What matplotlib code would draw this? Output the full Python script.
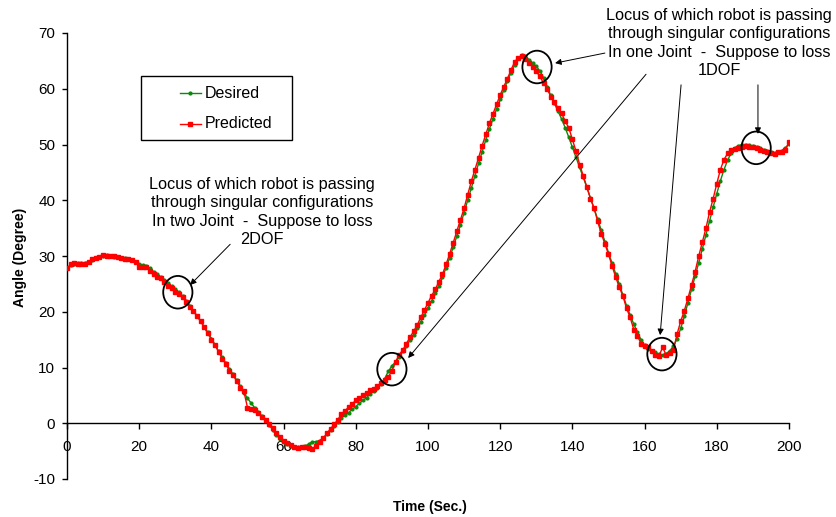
import matplotlib
matplotlib.use("Agg")
import matplotlib.pyplot as plt
from matplotlib.patches import Ellipse, Rectangle
from matplotlib.lines import Line2D

plt.rcParams['font.family'] = ['Liberation Sans', 'DejaVu Sans']

# Time axis (seconds)
time_s = list(range(0, 201))

# Desired joint angle (degrees), one sample per second
desired = [
    27.9, 28.3, 28.6, 28.7, 28.7, 28.8, 29.0, 29.3, 29.6, 29.8,
    30.0, 30.1, 30.0, 29.9, 29.8, 29.7, 29.6, 29.5, 29.3, 29.0,
    28.6, 28.4, 28.2, 27.8, 27.2, 26.7, 26.2, 25.7, 25.1, 24.6,
    24.1, 23.5, 22.8, 22.0, 21.1, 20.2, 19.3, 18.4, 17.3, 16.3,
    15.2, 14.1, 12.9, 11.8, 10.8, 9.7, 8.8, 7.7, 6.6, 5.5,
    4.5, 3.6, 2.8, 2.0, 1.3, 0.5, -0.3, -1.2, -2.1, -2.8,
    -3.4, -3.8, -4.1, -4.3, -4.3, -4.3, -4.1, -3.7, -3.3, -3.3,
    -3.1, -2.6, -2.0, -1.2, -0.5, 0.3, 1.0, 1.4, 1.9, 2.5,
    3.0, 3.6, 4.1, 4.6, 5.3, 5.8, 6.4, 7.0, 8.0, 9.3,
    10.3, 11.0, 11.9, 12.9, 13.9, 14.9, 15.9, 17.0, 18.2, 19.4,
    20.6, 21.9, 23.3, 24.6, 26.2, 27.9, 29.7, 31.6, 33.6, 35.6,
    37.8, 40.0, 42.2, 44.4, 46.6, 48.7, 50.8, 52.8, 54.6, 56.4,
    58.1, 59.8, 61.4, 62.9, 64.3, 65.5, 66.0, 65.8, 65.2, 64.6,
    64.0, 63.2, 62.0, 60.4, 58.8, 57.4, 56.0, 54.6, 53.0, 51.3,
    49.5, 47.7, 45.9, 44.1, 42.3, 40.4, 38.5, 36.6, 34.6, 32.6,
    30.6, 28.7, 26.8, 24.9, 23.0, 21.1, 19.4, 17.8, 16.3, 15.0,
    14.0, 13.4, 13.0, 12.7, 12.4, 12.2, 12.5, 13.0, 13.8, 15.2,
    17.0, 19.2, 21.6, 24.0, 26.4, 28.8, 31.3, 33.8, 36.3, 38.8,
    41.2, 43.5, 45.5, 47.2, 48.5, 49.3, 49.8, 50.0, 50.0, 49.9,
    49.7, 49.5, 49.3, 49.1, 48.9, 48.7, 48.5, 48.6, 48.9, 49.4,
    50.1,
]

# Predicted joint angle (degrees)
predicted = [
    27.8, 28.5, 28.8, 28.6, 28.6, 28.5, 28.9, 29.4, 29.7, 29.9,
    30.1, 30.0, 30.0, 30.0, 29.9, 29.6, 29.5, 29.4, 29.2, 28.9,
    28.1, 28.0, 28.0, 27.3, 26.7, 26.3, 26.0, 25.4, 24.6, 24.2,
    23.5, 23.1, 22.6, 21.7, 20.9, 20.1, 19.2, 18.3, 17.2, 16.1,
    15.0, 14.0, 12.8, 11.6, 10.6, 9.4, 8.6, 7.6, 6.4, 5.7,
    2.8, 2.6, 2.4, 1.8, 1.1, 0.5, -0.2, -0.8, -1.7, -2.4,
    -3.2, -3.6, -3.9, -4.3, -4.5, -4.3, -4.2, -4.4, -4.6, -4.0,
    -3.3, -2.7, -1.8, -1.0, -0.2, 0.6, 1.7, 2.2, 2.9, 3.5,
    4.1, 4.6, 5.0, 5.5, 5.9, 6.2, 6.7, 7.2, 7.8, 8.3,
    9.4, 11.0, 12.3, 13.1, 14.3, 15.4, 16.5, 17.6, 19.0, 20.3,
    21.6, 22.9, 24.0, 25.4, 26.7, 28.5, 30.4, 32.4, 34.5, 36.5,
    38.6, 41.0, 43.4, 45.5, 47.6, 49.8, 51.8, 53.8, 55.5, 57.2,
    58.9, 60.4, 61.8, 63.4, 64.8, 65.6, 65.8, 65.4, 64.7, 63.9,
    63.1, 62.2, 61.0, 60.0, 58.6, 57.6, 56.6, 55.6, 54.2, 53.0,
    50.9, 48.8, 46.4, 44.4, 42.4, 40.3, 38.6, 36.2, 34.0, 32.2,
    30.3, 28.2, 26.2, 24.4, 22.8, 20.6, 19.0, 16.8, 15.7, 14.3,
    13.9, 13.6, 13.0, 12.2, 12.1, 13.6, 12.2, 12.6, 13.2, 16.0,
    18.3, 20.2, 22.4, 24.8, 27.2, 30.0, 32.5, 35.0, 37.9, 40.3,
    43.0, 45.5, 47.3, 48.4, 49.0, 49.2, 49.3, 49.6, 49.7, 49.6,
    49.6, 49.4, 49.1, 48.9, 48.6, 48.5, 48.3, 48.6, 48.7, 49.0,
    50.5,
]

x_ticks = [0, 20, 40, 60, 80, 100, 120, 140, 160, 180, 200]
y_ticks = [-10, 0, 10, 20, 30, 40, 50, 60, 70]

series_names = ["Desired", "Predicted"]

note_two = ("Locus of which robot is passing\n"
            "through singular configurations\n"
            "In two Joint  -  Suppose to loss\n"
            "2DOF")
note_one = ("Locus of which robot is passing\n"
            "through singular configurations\n"
            "In one Joint  -  Suppose to loss\n"
            "1DOF")

# Singular-configuration markers: (time, angle)
circle_centers = [(30.7, 23.5), (130.2, 63.9), (90.0, 9.7), (164.8, 12.4), (190.9, 49.4)]

GREEN = "#0a8a0a"
RED = "#ff0000"

fig = plt.figure(figsize=(8.37, 5.17), dpi=100)
ax = fig.add_axes([67 / 837, 1 - 479 / 517, 722 / 837, 446 / 517])

ax.plot(time_s, desired, color=GREEN, lw=1.0, marker='o', ms=2.0,
        mec=GREEN, mfc=GREEN, label=series_names[0], zorder=3)
ax.plot(time_s, predicted, color=RED, lw=1.0, marker='s', ms=2.4,
        mec=RED, mfc=RED, label=series_names[1], zorder=4)

ax.set_xlim(0, 200)
ax.set_ylim(-10, 70)
ax.set_xticks(x_ticks)
ax.set_yticks(y_ticks)
ax.set_xticklabels([str(v) for v in x_ticks])
ax.set_yticklabels([str(v) for v in y_ticks])

for side in ("top", "right"):
    ax.spines[side].set_visible(False)
ax.spines["bottom"].set_position(("data", 0))
ax.spines["left"].set_linewidth(1.0)
ax.spines["bottom"].set_linewidth(1.0)
ax.tick_params(axis="x", direction="out", length=4, width=1.0, pad=8, labelsize=11)
ax.tick_params(axis="y", direction="out", length=3.5, width=1.0, pad=5, labelsize=11)

fig.text(430 / 837, 1 - 507 / 517, "Time (Sec.)", ha="center", va="center",
         fontsize=10, fontweight="bold")
fig.text(20 / 837, 1 - 257 / 517, "Angle (Degree)", ha="center", va="center",
         fontsize=10, fontweight="bold", rotation=90)

# Legend box drawn in axes fraction coordinates
lx0, ly0 = (141 - 67) / 722, (479 - 140) / 446
lx1, ly1 = (292 - 67) / 722, (479 - 76) / 446
ax.add_patch(Rectangle((lx0, ly0), lx1 - lx0, ly1 - ly0, transform=ax.transAxes,
                       fill=True, facecolor="white", edgecolor="black", lw=1.0,
                       zorder=6))
for name, col, mk, ms, py in ((series_names[0], GREEN, 'o', 2.0, 93),
                              (series_names[1], RED, 's', 2.4, 124)):
    yy = (479 - py) / 446
    ax.add_line(Line2D([(180 - 67) / 722, (201 - 67) / 722], [yy, yy],
                       transform=ax.transAxes, color=col, lw=1.0, zorder=7))
    ax.add_line(Line2D([(190.5 - 67) / 722], [yy], transform=ax.transAxes,
                       marker=mk, ms=ms, color=col, zorder=7))
    ax.text((205 - 67) / 722, yy, name, transform=ax.transAxes, fontsize=11.5,
            ha="left", va="center", zorder=7)

# Circles around the singular points
for cx, cy in circle_centers:
    ax.add_patch(Ellipse((cx, cy), 8.1, 5.85, fill=False, edgecolor="black",
                         lw=1.3, zorder=8))

arrow_kw = dict(arrowstyle="-|>", color="black", lw=0.7,
                mutation_scale=9, shrinkA=0, shrinkB=0)

ax.text(54.0, 37.9, note_two, ha="center", va="center", fontsize=11.7,
        multialignment="center", linespacing=1.27)
ax.annotate("", xy=(34.1, 24.8), xytext=(45.2, 32.1), arrowprops=arrow_kw)

ax.text(180.6, 68.2, note_one, ha="center", va="center", fontsize=11.7,
        multialignment="center", linespacing=1.27, clip_on=False)
one_arrows = [((135.2, 64.6), (149.0, 66.4)),
              ((94.5, 11.7), (160.4, 62.6)),
              ((164.3, 15.8), (170.1, 60.7)),
              ((191.4, 51.9), (191.4, 60.7))]
for tip, tail in one_arrows:
    ax.annotate("", xy=tip, xytext=tail, arrowprops=arrow_kw,
                annotation_clip=False)

fig.savefig("out.png", dpi=100)
